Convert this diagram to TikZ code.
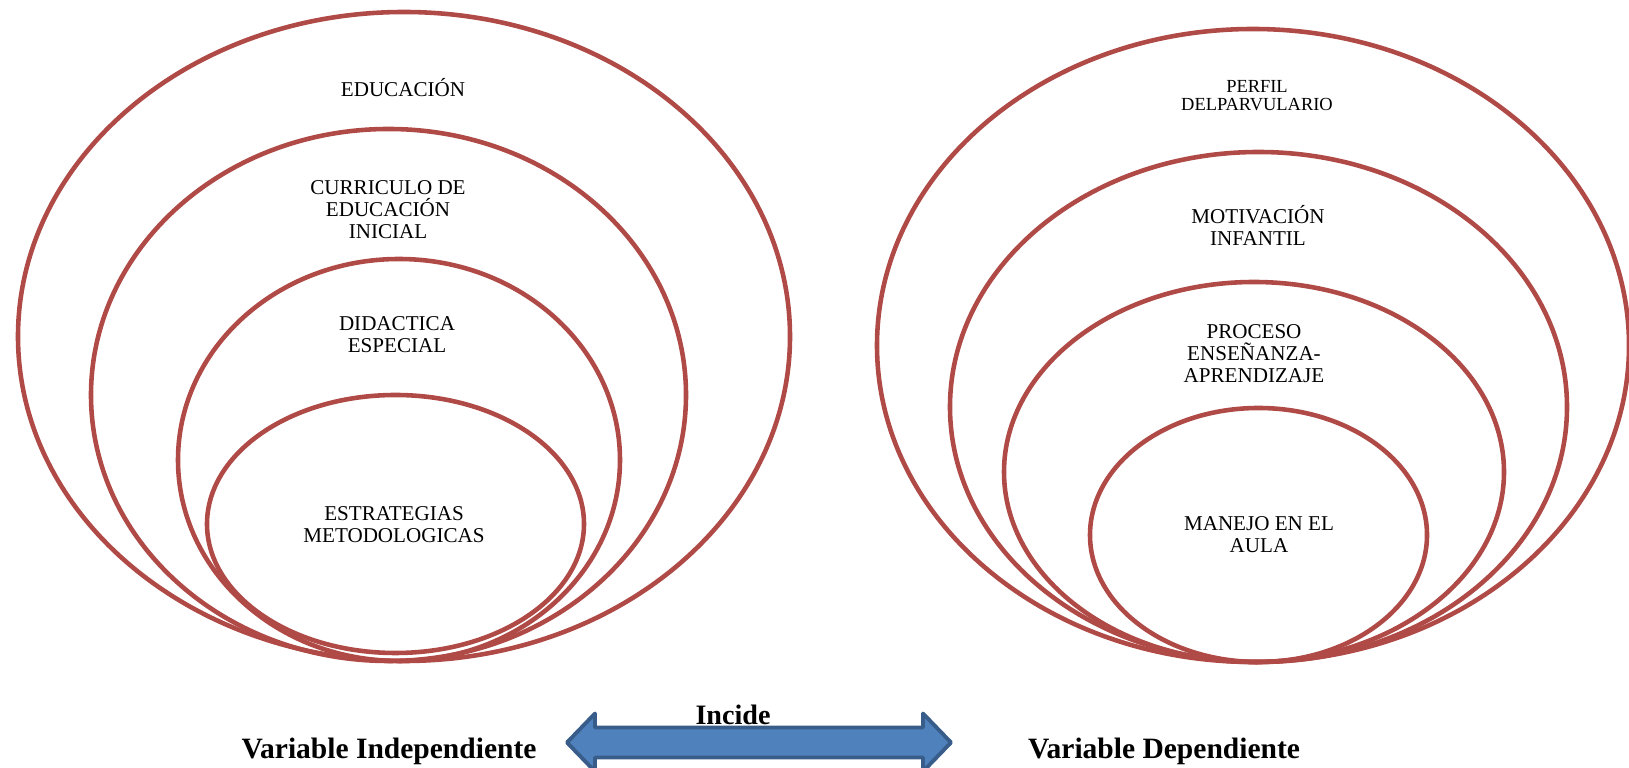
\documentclass[tikz,border=0pt]{standalone}
\usepackage{fontspec}
\setmainfont{Liberation Serif}
\definecolor{rojoelipse}{RGB}{176,74,71}
\definecolor{azulflecha}{RGB}{79,129,189}
\definecolor{bordeflecha}{RGB}{56,93,138}
\tikzset{
  >=latex,
}
\tikzstyle{elipse}=[line width=2.6pt,draw=rojoelipse]
\tikzstyle{etiqueta}=[anchor=base,align=center,inner sep=0pt,font=\fontsize{12}{12.6}\selectfont]
\tikzstyle{etiquetachica}=[etiqueta,font=\fontsize{10.5}{10.8}\selectfont]
\tikzstyle{nombrevar}=[anchor=base,inner sep=0pt,font=\fontsize{16.8}{18}\selectfont\bfseries]

\begin{document}
\begin{tikzpicture}
    \useasboundingbox (0,0) rectangle (32.58,15.36);
    % variable independiente
    \draw[elipse] (8.08,8.63) ellipse (7.72 and 6.49);
    \draw[elipse] (7.77,7.46) ellipse (5.95 and 5.32);
    \draw[elipse] (7.98,6.16) ellipse (4.42 and 4.02);
    \draw[elipse] (7.91,4.88) ellipse (3.77 and 2.58);
    \node[etiqueta] (educ) at (8.06,13.42) {EDUCACIÓN};
    \node[etiqueta] (curr) at (7.76,10.58) {CURRICULO DE\\EDUCACIÓN\\INICIAL};
    \node[etiqueta] (didac) at (7.94,8.30) {DIDACTICA\\ESPECIAL};
    \node[etiqueta] (estrat) at (7.88,4.50) {ESTRATEGIAS\\METODOLOGICAS};
    % variable dependiente
    \draw[elipse] (25.06,8.45) ellipse (7.52 and 6.33);
    \draw[elipse] (25.17,7.22) ellipse (6.17 and 5.10);
    \draw[elipse] (25.08,5.92) ellipse (5.00 and 3.80);
    \draw[elipse] (25.17,4.66) ellipse (3.37 and 2.54);
    \node[etiquetachica] (perfil) at (25.14,13.14) {PERFIL\\DELPARVULARIO};
    \node[etiqueta] (motiv) at (25.16,10.44) {MOTIVACIÓN\\INFANTIL};
    \node[etiqueta] (proceso) at (25.08,7.70) {PROCESO\\ENSEÑANZA-\\APRENDIZAJE};
    \node[etiqueta] (manejo) at (25.18,4.30) {MANEJO EN EL\\AULA};
    % flecha
    \node[nombrevar] (vi) at (7.78,0.18) {Variable Independiente};
    \node[nombrevar] (vd) at (23.28,0.18) {Variable Dependiente};
    \node[nombrevar,font=\fontsize{16}{18}\selectfont\bfseries] (incide) at (14.66,0.86) {Incide};
    \draw[line width=2.2pt,draw=bordeflecha,fill=azulflecha,line join=round]
      (11.34,0.51) -- (11.90,1.09) -- (11.90,0.81) -- (18.46,0.81) -- (18.46,1.09)
      -- (19.02,0.51) -- (18.46,-0.07) -- (18.46,0.21) -- (11.90,0.21) -- (11.90,-0.07) -- cycle;
\end{tikzpicture}
\end{document}
